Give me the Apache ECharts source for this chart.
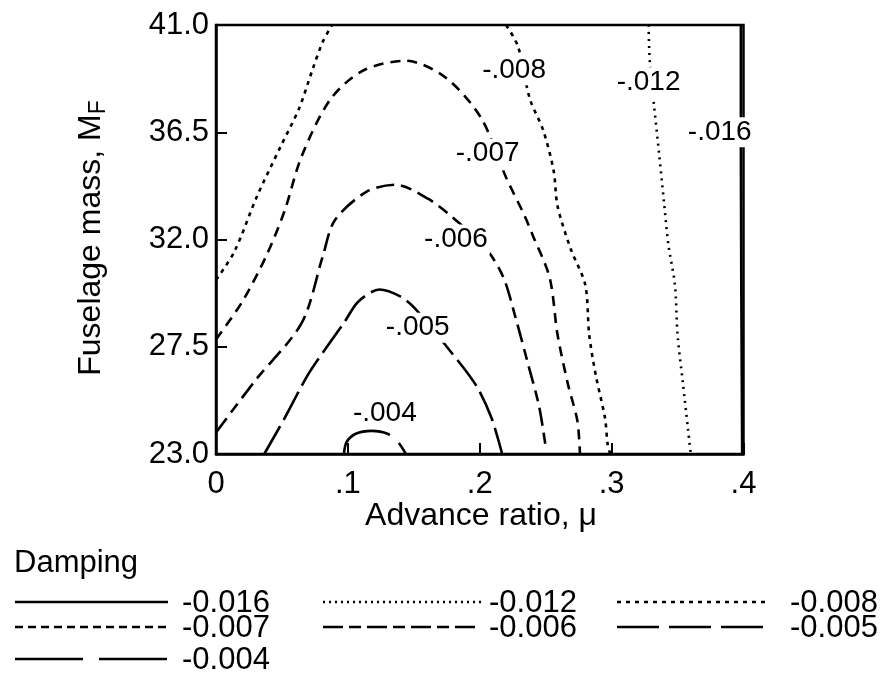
<!DOCTYPE html>
<html><head><meta charset="utf-8">
<script src="https://cdn.jsdelivr.net/npm/echarts@6/dist/echarts.min.js"></script>
<style>html,body{margin:0;padding:0;background:#fff}#c{width:891px;height:686px}</style>
</head><body><div id="c"></div>
<script>
// ---- axis ticks ----
const xTickValues = [0, 0.1, 0.2, 0.3, 0.4];
const xTickLabels = ['0', '.1', '.2', '.3', '.4'];
const yTickValues = [23.0, 27.5, 32.0, 36.5, 41.0];
const yTickLabels = ['23.0', '27.5', '32.0', '36.5', '41.0'];

// ---- contour lines: [advance ratio mu, fuselage mass M_F] ----
const c016 = [[0.398, 41.0], [0.398, 36.0], [0.399, 23.0]];
const c012 = [[0.328, 41.0], [0.329, 39.4], [0.332, 37.7], [0.336, 35.6], [0.340, 33.4], [0.343, 31.8], [0.348, 30.1], [0.350, 28.0], [0.354, 26.0], [0.358, 24.0], [0.360, 23.0]];
const c008left = [[0.000, 30.3], [0.014, 31.5], [0.031, 33.8], [0.049, 35.9], [0.063, 37.5], [0.073, 39.1], [0.081, 40.3], [0.088, 41.0]];
const c008right = [[0.220, 41.0], [0.229, 40.1], [0.238, 37.9], [0.248, 36.6], [0.256, 34.9], [0.259, 33.4], [0.269, 31.6], [0.280, 30.1], [0.283, 28.0], [0.288, 26.3], [0.295, 24.5], [0.297, 23.4], [0.299, 23.0]];
const c007 = [[0.000, 27.8], [0.020, 29.4], [0.038, 31.3], [0.052, 33.2], [0.065, 35.5], [0.087, 37.9], [0.112, 39.1], [0.144, 39.5], [0.174, 38.8], [0.201, 37.1], [0.220, 34.6], [0.234, 33.0], [0.240, 32.2], [0.253, 30.4], [0.259, 28.0], [0.267, 25.9], [0.274, 24.4], [0.276, 23.0]];
const c006 = [[0.000, 23.9], [0.030, 26.1], [0.065, 28.5], [0.081, 31.3], [0.090, 32.8], [0.114, 34.0], [0.136, 34.3], [0.161, 33.7], [0.180, 32.9], [0.205, 31.6], [0.218, 30.4], [0.227, 28.75], [0.237, 26.7], [0.245, 25.0], [0.250, 23.3]];
const c005 = [[0.0366, 23.0], [0.052, 24.5], [0.070, 26.35], [0.088, 27.8], [0.097, 28.5], [0.108, 29.4], [0.124, 29.9], [0.140, 29.6], [0.151, 29.1], [0.175, 27.5], [0.197, 25.9], [0.209, 24.5], [0.217, 23.0]];
const c004 = [[0.097, 23.0], [0.099, 23.5], [0.106, 23.85], [0.118, 23.97], [0.130, 23.85], [0.138, 23.5], [0.144, 23.0]];

// ---- contour labels ----
const labelMu   = [0.226, 0.328, 0.382, 0.206, 0.182, 0.153, 0.128];
const labelM    = [39.1, 38.6, 36.5, 35.6, 32.0, 28.3, 24.7];
const labelText = ['-.008', '-.012', '-.016', '-.007', '-.006', '-.005', '-.004'];

// ---- legend ----
const legendTitle = 'Damping';
const legendLevels = ['-0.016', '-0.012', '-0.008', '-0.007', '-0.006', '-0.005', '-0.004'];

const FONT = '"Liberation Sans", Arial, Helvetica, sans-serif';
const dash = {
  '-0.016': 'solid',
  '-0.012': [2, 5],
  '-0.008': [4, 5],
  '-0.007': [10, 7],
  '-0.006': [18, 7, 11, 7],
  '-0.005': [32, 7],
  '-0.004': [60, 12]
};
const legendDash = {
  '-0.016': 'solid',
  '-0.012': [2, 4],
  '-0.008': [4, 5],
  '-0.007': [8, 5],
  '-0.006': [20, 6, 12, 6],
  '-0.005': [42, 10],
  '-0.004': [68, 16]
};

function contour(data, level) {
  return {
    type: 'line', data: data, symbol: 'none', smooth: 0.3, silent: true,
    lineStyle: { color: '#000', width: 2.6, type: dash[level] }, z: 3
  };
}

const chart = echarts.init(document.getElementById('c'), null, { renderer: 'canvas' });

const labelData = labelText.map((t, i) => ({ value: [labelMu[i], labelM[i]], name: t }));

// legend graphics
const legendPos = [
  { lx1: 15, lx2: 168, tx: 182, y: 603 },
  { lx1: 323, lx2: 481, tx: 489, y: 603 },
  { lx1: 617, lx2: 765, tx: 790, y: 603 },
  { lx1: 15, lx2: 168, tx: 182, y: 628 },
  { lx1: 323, lx2: 481, tx: 489, y: 628 },
  { lx1: 617, lx2: 765, tx: 790, y: 628 },
  { lx1: 15, lx2: 168, tx: 182, y: 660 }
];
const graphics = [];
legendLevels.forEach((lv, i) => {
  const p = legendPos[i];
  const ld = legendDash[lv];
  graphics.push({
    type: 'line', shape: { x1: p.lx1, y1: p.y - 1, x2: p.lx2, y2: p.y - 1 },
    style: { stroke: '#000', lineWidth: 2.4, lineDash: ld === 'solid' ? null : ld }
  });
  graphics.push({
    type: 'text', x: p.tx, y: p.y,
    style: { text: lv, fontSize: 31, fontFamily: FONT, fill: '#000', verticalAlign: 'middle', align: 'left' }
  });
});
graphics.push({
  type: 'text', x: 14, y: 563,
  style: { text: legendTitle, fontSize: 31, fontFamily: FONT, fill: '#000', verticalAlign: 'middle', align: 'left' }
});
graphics.push({
  type: 'text', x: 481, y: 516,
  style: { text: 'Advance ratio, \u03bc', fontSize: 32, fontFamily: FONT, fill: '#000', verticalAlign: 'middle', align: 'center' }
});
graphics.push({
  type: 'text', x: 91, y: 238, rotation: Math.PI / 2,
  style: {
    text: '{n|Fuselage mass, M}{s|F}', fill: '#000', align: 'center', verticalAlign: 'middle',
    rich: {
      n: { fontSize: 32, fontFamily: FONT, lineHeight: 38 },
      s: { fontSize: 23, fontFamily: FONT, verticalAlign: 'bottom', lineHeight: 38 }
    }
  }
});

const option = {
  backgroundColor: '#fff',
  animation: false,
  grid: { left: 216, top: 25, right: 147.5, bottom: 232, show: true, borderColor: '#000', borderWidth: 2.5, backgroundColor: 'transparent' },
  xAxis: {
    type: 'value', min: 0, max: 0.4, interval: 0.1,
    axisLine: { show: true, lineStyle: { color: '#000', width: 2.5 } },
    axisTick: { show: true, inside: true, length: 11, lineStyle: { color: '#000', width: 2 } },
    splitLine: { show: false },
    axisLabel: {
      margin: 15, color: '#000', fontSize: 31, fontFamily: FONT,
      formatter: v => { const i = xTickValues.findIndex(t => Math.abs(t - v) < 1e-6); return i >= 0 ? xTickLabels[i] : ''; }
    }
  },
  yAxis: {
    type: 'value', min: 23, max: 41, interval: 4.5,
    axisLine: { show: true, lineStyle: { color: '#000', width: 2.5 } },
    axisTick: { show: true, inside: true, length: 11, lineStyle: { color: '#000', width: 2 } },
    splitLine: { show: false },
    axisLabel: {
      margin: 7, color: '#000', fontSize: 31, fontFamily: FONT,
      formatter: v => { const i = yTickValues.findIndex(t => Math.abs(t - v) < 1e-6); return i >= 0 ? yTickLabels[i] : ''; }
    }
  },
  series: [
    contour(c016, '-0.016'),
    contour(c012, '-0.012'),
    contour(c008left, '-0.008'),
    contour(c008right, '-0.008'),
    contour(c007, '-0.007'),
    contour(c006, '-0.006'),
    contour(c005, '-0.005'),
    contour(c004, '-0.004'),
    {
      type: 'scatter', data: labelData, symbolSize: 0, silent: true, z: 10,
      itemStyle: { opacity: 1 },
      label: {
        show: true, position: 'inside', formatter: p => p.name, opacity: 1,
        color: '#000', fontSize: 28, fontFamily: FONT,
        backgroundColor: '#fff', padding: [1, 2]
      }
    }
  ],
  graphic: graphics
};
chart.setOption(option);
</script>
</body></html>
